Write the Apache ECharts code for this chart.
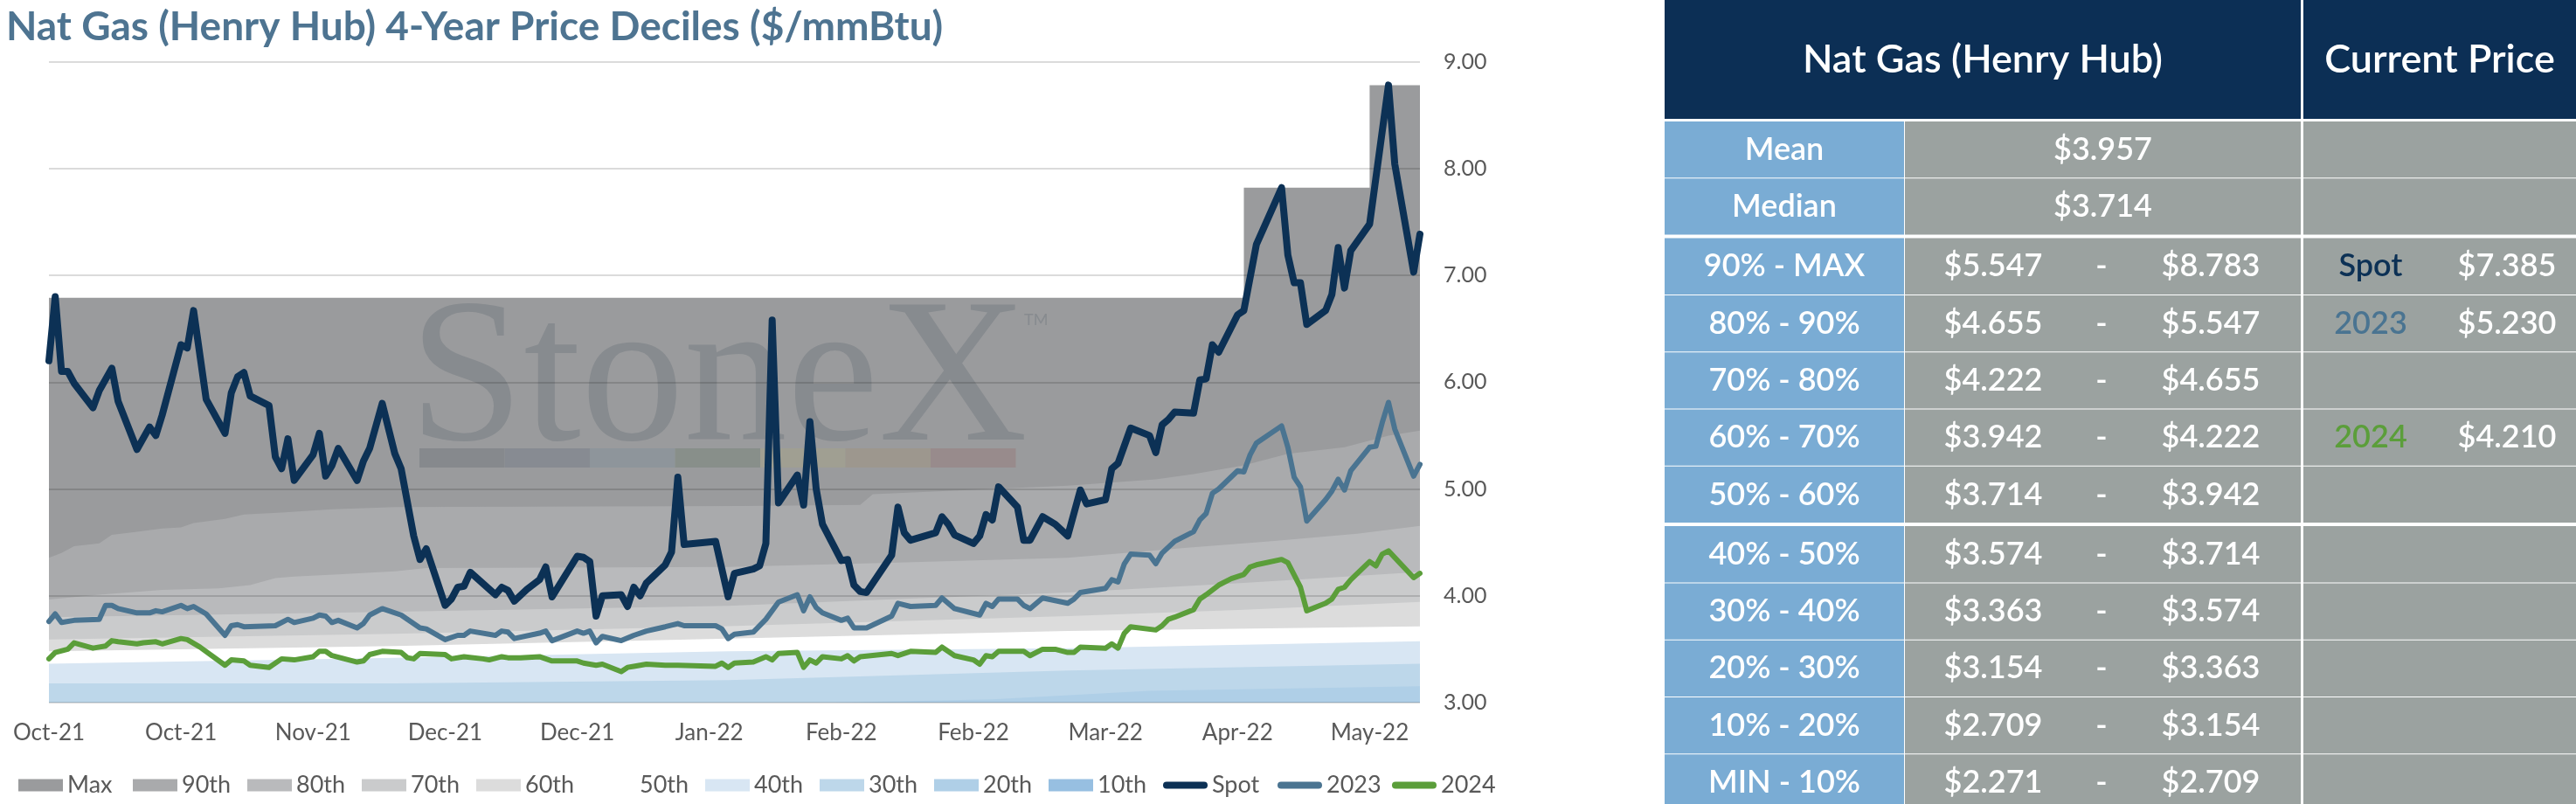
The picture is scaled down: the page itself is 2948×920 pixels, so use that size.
<!DOCTYPE html>
<html>
<head>
<meta charset="utf-8">
<title>Nat Gas (Henry Hub) 4-Year Price Deciles</title>
<script src="https://cdn.jsdelivr.net/npm/echarts@6/dist/echarts.min.js"></script>
<style>
  html, body { margin: 0; padding: 0; background: #fff; }
  #chart { width: 2948px; height: 920px; }
</style>
</head>
<body>
<div id="chart"></div>
<script>
const titleText = 'Nat Gas (Henry Hub) 4-Year Price Deciles ($/mmBtu)';

// x = trading day index, a label every 21 days
const xTickLabels = ['Oct-21','Oct-21','Nov-21','Dec-21','Dec-21','Jan-22','Feb-22','Feb-22','Mar-22','Apr-22','May-22'];
const tickStep = 21;
const lastDay = 218;

// rolling 4-year decile levels ($/mmBtu)
const bandMax = [[0,6.79],[190,7.82],[210,8.78],[218,8.78]];
const band90 = [[0,4.355],[2,4.40],[4,4.465],[8,4.49],[10,4.57],[14,4.60],[18,4.63],[21,4.64],[23,4.68],[28,4.72],[31,4.76],[37,4.78],[45,4.81],[55,4.83],[110,4.84],[129,4.85],[131,4.95],[162,5.03],[176,5.09],[182,5.14],[190,5.22],[197,5.33],[206,5.39],[213,5.50],[218,5.547]];
const band80 = [[0,3.965],[8,4.01],[18,4.055],[27,4.07],[32,4.10],[36,4.165],[39,4.18],[46,4.20],[55,4.23],[60,4.26],[108,4.27],[135,4.31],[162,4.355],[181,4.45],[194,4.51],[208,4.58],[218,4.655]];
const band70 = [[0,3.80],[55,3.85],[108,3.905],[135,3.97],[162,4.03],[190,4.12],[218,4.222]];
const band60 = [[0,3.59],[55,3.645],[108,3.715],[162,3.81],[190,3.87],[218,3.942]];
const band50 = [[0,3.48],[55,3.53],[108,3.60],[162,3.67],[218,3.714]];
const band40 = [[0,3.365],[55,3.42],[108,3.48],[162,3.51],[218,3.574]];
const band30 = [[0,3.18],[55,3.18],[108,3.21],[162,3.30],[218,3.363]];
const band20 = [[0,2.90],[100,2.97],[150,3.03],[175,3.11],[218,3.154]];
const band10 = [[0,2.55],[218,2.709]];

const spot = [[0,6.20],[1,6.80],[2,6.10],[3,6.10],[4,5.99],[7,5.76],[8,5.92],[10,6.13],[11,5.82],[14,5.37],[16,5.58],[17,5.50],[18,5.69],[21,6.35],[22,6.32],[23,6.67],[25,5.84],[28,5.52],[29,5.90],[30,6.05],[31,6.09],[32,5.87],[35,5.78],[36,5.30],[37,5.19],[38,5.47],[39,5.08],[42,5.32],[43,5.52],[44,5.12],[45,5.22],[46,5.38],[49,5.08],[50,5.26],[51,5.38],[53,5.80],[55,5.33],[56,5.19],[58,4.56],[59,4.34],[60,4.44],[63,3.91],[64,3.97],[65,4.08],[66,4.09],[67,4.22],[71,4.01],[72,4.08],[73,4.05],[74,3.95],[76,4.06],[78,4.15],[79,4.27],[80,3.99],[84,4.37],[85,4.36],[86,4.32],[87,3.81],[88,4.00],[91,4.01],[92,3.90],[93,4.08],[94,4.00],[95,4.12],[98,4.29],[99,4.41],[100,5.11],[101,4.48],[106,4.51],[108,3.99],[109,4.21],[112,4.25],[113,4.28],[114,4.49],[115,6.58],[116,4.87],[119,5.13],[120,4.85],[121,5.63],[122,5.00],[123,4.67],[126,4.33],[127,4.34],[128,4.10],[129,4.04],[130,4.03],[134,4.38],[135,4.83],[136,4.59],[137,4.52],[141,4.59],[142,4.74],[143,4.67],[144,4.57],[147,4.49],[148,4.56],[149,4.76],[150,4.71],[151,5.02],[154,4.83],[155,4.52],[156,4.52],[158,4.74],[160,4.67],[162,4.56],[164,4.99],[165,4.86],[168,4.90],[169,5.19],[170,5.24],[172,5.57],[175,5.50],[176,5.34],[177,5.60],[178,5.65],[179,5.72],[182,5.71],[183,6.02],[184,6.03],[185,6.35],[186,6.28],[189,6.63],[190,6.67],[192,7.29],[196,7.82],[197,7.19],[198,6.93],[199,6.93],[200,6.54],[203,6.67],[204,6.82],[205,7.26],[206,6.88],[207,7.23],[210,7.48],[213,8.78],[214,8.04],[217,7.03],[218,7.385]];

const strip2023 = [[0,3.76],[1,3.83],[2,3.75],[4,3.77],[8,3.78],[9,3.91],[10,3.91],[11,3.88],[14,3.84],[16,3.84],[17,3.86],[18,3.85],[21,3.91],[22,3.88],[23,3.90],[25,3.83],[28,3.63],[29,3.72],[30,3.73],[31,3.71],[36,3.72],[38,3.78],[39,3.75],[42,3.79],[43,3.82],[44,3.81],[45,3.75],[46,3.77],[49,3.70],[50,3.74],[51,3.82],[53,3.88],[56,3.82],[59,3.70],[60,3.69],[63,3.59],[65,3.63],[66,3.63],[67,3.67],[71,3.63],[72,3.67],[73,3.66],[74,3.60],[78,3.65],[79,3.67],[80,3.58],[84,3.67],[85,3.65],[86,3.67],[87,3.56],[88,3.62],[91,3.58],[93,3.63],[95,3.67],[98,3.71],[100,3.74],[101,3.72],[106,3.72],[107,3.69],[108,3.60],[109,3.64],[112,3.66],[114,3.78],[116,3.94],[119,4.01],[120,3.86],[121,3.99],[122,3.89],[123,3.84],[126,3.77],[127,3.79],[128,3.70],[130,3.70],[134,3.81],[135,3.93],[137,3.90],[141,3.91],[142,3.98],[144,3.88],[148,3.82],[149,3.93],[150,3.90],[151,3.97],[154,3.97],[155,3.91],[156,3.88],[158,3.98],[162,3.93],[163,3.97],[164,4.03],[168,4.07],[169,4.15],[170,4.13],[171,4.30],[172,4.39],[175,4.38],[176,4.30],[177,4.40],[179,4.51],[182,4.60],[183,4.71],[184,4.77],[185,4.96],[186,5.00],[189,5.17],[190,5.16],[191,5.32],[192,5.43],[196,5.59],[197,5.39],[198,5.11],[199,5.02],[200,4.70],[203,4.90],[204,4.98],[205,5.09],[206,4.99],[207,5.17],[210,5.39],[211,5.40],[212,5.62],[213,5.81],[214,5.56],[217,5.12],[218,5.23]];

const strip2024 = [[0,3.41],[1,3.47],[3,3.50],[4,3.56],[7,3.51],[9,3.53],[10,3.58],[11,3.57],[14,3.55],[15,3.56],[17,3.57],[18,3.55],[21,3.60],[22,3.59],[24,3.52],[28,3.35],[29,3.40],[31,3.39],[32,3.35],[35,3.33],[37,3.41],[39,3.40],[42,3.43],[43,3.48],[44,3.48],[45,3.44],[49,3.38],[50,3.39],[51,3.45],[53,3.48],[56,3.47],[57,3.42],[58,3.41],[59,3.46],[63,3.45],[64,3.41],[66,3.43],[69,3.41],[70,3.40],[72,3.43],[73,3.42],[75,3.42],[78,3.43],[80,3.39],[84,3.39],[85,3.37],[86,3.36],[87,3.35],[88,3.36],[91,3.29],[92,3.33],[93,3.34],[95,3.36],[98,3.35],[100,3.35],[106,3.34],[107,3.37],[108,3.33],[109,3.37],[112,3.38],[114,3.43],[115,3.40],[116,3.46],[119,3.47],[120,3.33],[121,3.40],[122,3.37],[123,3.43],[126,3.41],[127,3.44],[128,3.39],[129,3.43],[134,3.46],[135,3.44],[137,3.48],[141,3.47],[142,3.52],[144,3.44],[147,3.40],[148,3.36],[149,3.44],[150,3.43],[151,3.48],[155,3.48],[156,3.44],[158,3.50],[160,3.50],[162,3.47],[163,3.47],[164,3.52],[168,3.51],[169,3.55],[170,3.51],[171,3.65],[172,3.71],[176,3.68],[177,3.72],[178,3.78],[179,3.80],[182,3.87],[183,3.97],[184,4.01],[186,4.10],[188,4.16],[190,4.20],[191,4.27],[192,4.29],[196,4.34],[197,4.31],[199,4.08],[200,3.86],[203,3.93],[204,3.97],[205,4.06],[206,4.08],[207,4.15],[210,4.32],[211,4.28],[212,4.39],[213,4.42],[217,4.17],[218,4.21]];

// table on the right
const tableLabels = ['Mean','Median','90% - MAX','80% - 90%','70% - 80%','60% - 70%','50% - 60%','40% - 50%','30% - 40%','20% - 30%','10% - 20%','MIN - 10%'];
const statVals = [3.957, 3.714];
const rangeLow = [5.547, 4.655, 4.222, 3.942, 3.714, 3.574, 3.363, 3.154, 2.709, 2.271];
const rangeHigh = [8.783, 5.547, 4.655, 4.222, 3.942, 3.714, 3.574, 3.363, 3.154, 2.709];
const currentNames = ['Spot', '2023', '2024'];
const currentVals = [7.385, 5.230, 4.210];
const currentRows = [2, 3, 5];

const bandNames = ['Max','90th','80th','70th','60th','50th','40th','30th','20th','10th'];
const bandData = [bandMax, band90, band80, band70, band60, band50, band40, band30, band20, band10];
const bandColors = ['#9a9b9d','#a9aaac','#b9babc','#cacbcc','#dcdcdc','#ffffff','#d8e6f3','#bdd7ea','#afcfe7','#97bfe1'];
const lineNames = ['Spot','2023','2024'];
const lineData = [spot, strip2023, strip2024];
const lineColors = ['#0c3155','#4a7491','#5b9e3a'];
const lineWidths = [8, 6, 6];

const FONT = 'Lato';
const textGray = '#595959';
const money = v => '$' + v.toFixed(3);

const chart = echarts.init(document.getElementById('chart'), null, {renderer: 'canvas'});

const txt = (s, x, y, fill, font, align) => ({
    type: 'text', x: x, y: y, silent: true,
    style: {text: s, fill: fill, font: font, align: align || 'center', verticalAlign: 'middle',
        textAlign: align || 'center', textVerticalAlign: 'middle'}
});
const box = (x, y, w, h, fill) => ({type: 'rect', silent: true, shape: {x: x, y: y, width: w, height: h}, style: {fill: fill}});

const graphics = [];
graphics.push(txt(titleText, 7, 31, '#4e7491', 'bold 46px ' + FONT, 'left'));

// watermark, sits between the bands and the lines
const wmFill = '#878b8f';
graphics.push(Object.assign(txt('StoneX', 0, 0, wmFill, '236px "Liberation Serif"', 'left'), {x: 468, y: 441, z: 2}));
graphics.push(Object.assign(txt('TM', 1172, 366, wmFill, '18px ' + FONT, 'left'), {z: 2}));
const wmBar = ['#86898d','#878b92','#8e959b','#888f8a','#a09f92','#9d978e','#988b8c'];
wmBar.forEach((c, i) => graphics.push(Object.assign(box(480 + i * 97.5, 513, 97.5, 22, c), {z: 2})));

// table
const tb = {x: 1905, labW: 274, valX: 2180, valW: 453, curX: 2636, curW: 312, headH: 136, top: 139, rowH: 64.3, sep: 1, thick: 4};
const navy = '#0c2f55', blueCell = '#7aacd4', grayCell = '#9ba2a0';
const cellFont = '600 36px ' + FONT;
const headFont = '600 45px ' + FONT;
graphics.push(box(tb.x, 0, tb.valX + tb.valW - tb.x, tb.headH, navy));
graphics.push(box(tb.curX, 0, tb.curW, tb.headH, navy));
graphics.push(txt('Nat Gas (Henry Hub)', (tb.x + tb.valX + tb.valW) / 2, 68, '#fff', headFont));
graphics.push(txt('Current Price', tb.curX + tb.curW / 2, 68, '#fff', headFont));

let rowY = tb.top;
tableLabels.forEach((lab, i) => {
    const mid = rowY + tb.rowH / 2;
    graphics.push(box(tb.x, rowY, tb.labW, tb.rowH, blueCell));
    graphics.push(box(tb.valX, rowY, tb.valW, tb.rowH, grayCell));
    graphics.push(box(tb.curX, rowY, tb.curW, tb.rowH, grayCell));
    graphics.push(txt(lab, tb.x + tb.labW / 2, mid, '#fff', cellFont));
    if (i < 2) {
        graphics.push(txt(money(statVals[i]), tb.valX + tb.valW / 2, mid, '#fff', cellFont));
    } else {
        graphics.push(txt(money(rangeLow[i - 2]), tb.valX + 101, mid, '#fff', cellFont));
        graphics.push(txt('-', tb.valX + 225, mid, '#fff', cellFont));
        graphics.push(txt(money(rangeHigh[i - 2]), tb.valX + 350, mid, '#fff', cellFont));
    }
    const k = currentRows.indexOf(i);
    if (k >= 0) {
        graphics.push(txt(currentNames[k], tb.curX + 77, mid, lineColors[k], cellFont));
        graphics.push(txt(money(currentVals[k]), tb.curX + 233, mid, '#fff', cellFont));
    }
    rowY += tb.rowH + tb.sep;
    if (i === 1 || i === 6) rowY += tb.thick - tb.sep;
});

const series = [];
bandNames.forEach((n, i) => {
    series.push({
        name: n, type: 'line', data: bandData[i], z: 1,
        symbol: 'none', step: i === 0 ? 'end' : false,
        lineStyle: {width: 0},
        areaStyle: {color: bandColors[i], opacity: 1, origin: 'start'},
        itemStyle: {color: bandColors[i]},
        emphasis: {disabled: true}
    });
});
lineNames.forEach((n, i) => {
    series.push({
        name: n, type: 'line', data: lineData[i], z: 10,
        symbol: 'none',
        lineStyle: {color: lineColors[i], width: lineWidths[i], cap: 'round', join: 'round'},
        itemStyle: {color: lineColors[i]},
        emphasis: {disabled: true}
    });
});

// one legend per entry so the entries sit on an even pitch
const lineIcon = 'path://M4,0 L46,0 A4,4 0 0 1 46,8 L4,8 A4,4 0 0 1 4,0 Z';
const legendNames = bandNames.concat(lineNames);
const legends = legendNames.map((n, i) => ({
    left: 16 + i * 131, top: 880, itemWidth: 51, itemHeight: 14,
    selectedMode: false,
    textStyle: {fontSize: 27, color: textGray, fontFamily: FONT},
    data: [{name: n, icon: i < bandNames.length ? 'rect' : lineIcon}]
}));

const option = {
    animation: false,
    backgroundColor: '#fff',
    textStyle: {fontFamily: FONT},
    grid: {left: 56, right: 1323, top: 70.5, bottom: 116, containLabel: false, outerBoundsMode: 'none'},
    legend: legends,
    xAxis: {
        type: 'value', min: 0, max: lastDay, interval: tickStep,
        axisLine: {show: false}, axisTick: {show: false}, splitLine: {show: false},
        axisLabel: {
            fontSize: 26, color: textGray, fontFamily: FONT, margin: 22,
            formatter: v => (v % tickStep === 0 && xTickLabels[v / tickStep]) || ''
        }
    },
    yAxis: {
        type: 'value', position: 'right', min: 3, max: 9, interval: 1, z: 3,
        axisLine: {show: false}, axisTick: {show: false},
        splitLine: {lineStyle: {color: 'rgba(0,0,0,0.14)', width: 2}},
        axisLabel: {fontSize: 25, color: textGray, fontFamily: FONT, margin: 27, formatter: v => v.toFixed(2)}
    },
    graphic: {elements: graphics},
    series: series
};

chart.setOption(option);
</script>
</body>
</html>
